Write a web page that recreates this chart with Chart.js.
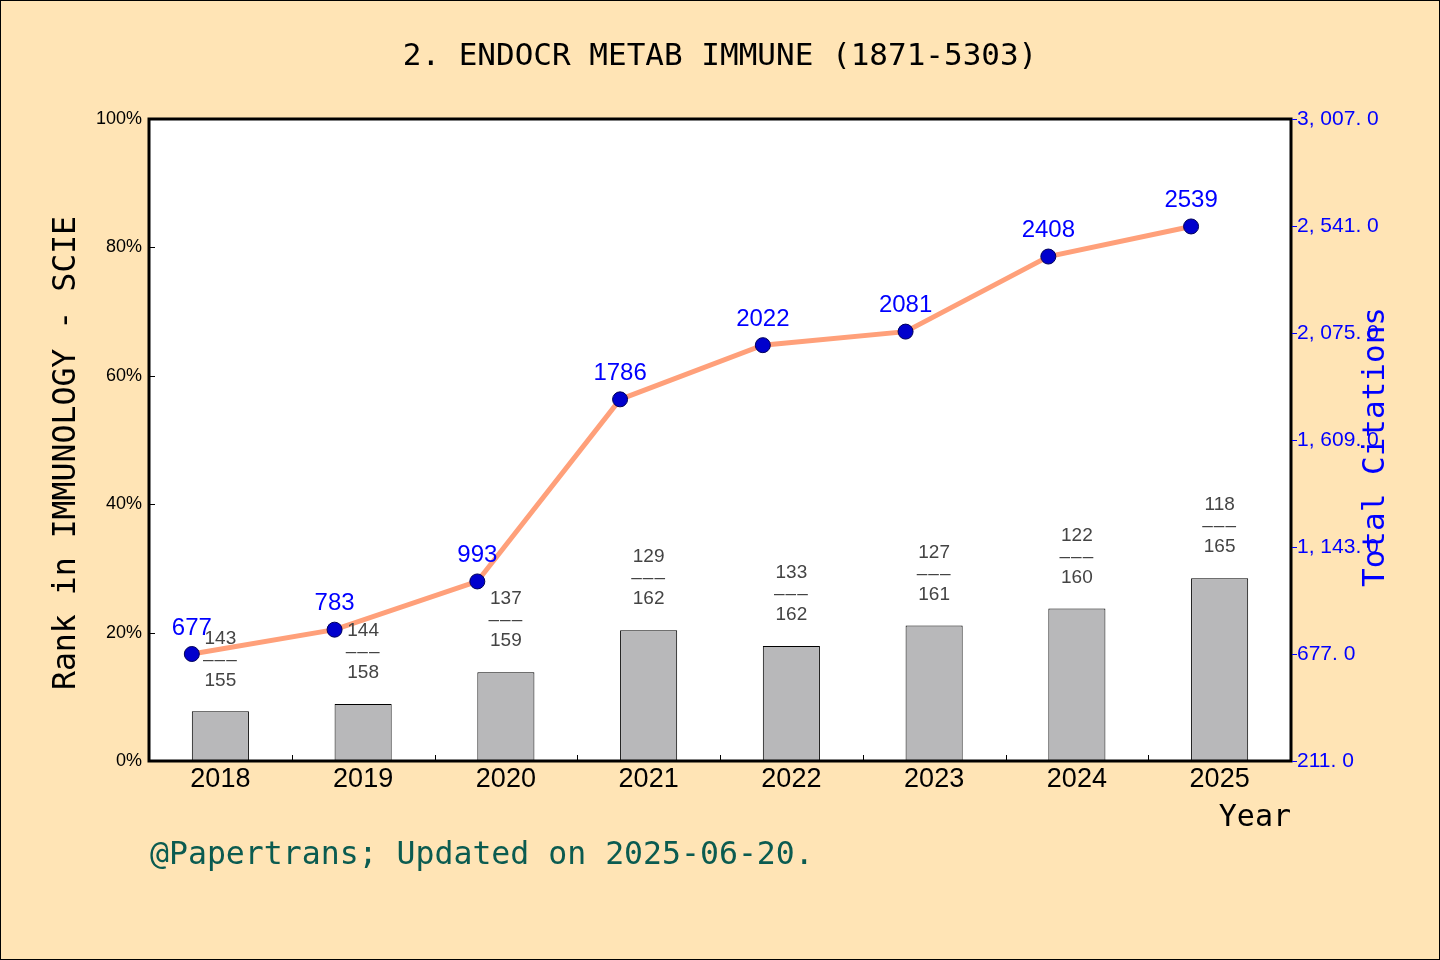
<!DOCTYPE html>
<html>
<head>
<meta charset="utf-8">
<script src="https://cdn.jsdelivr.net/npm/chart.js@4"></script>
<style>
html,body{margin:0;padding:0;background:#FFE4B5;}
canvas{display:block;}
</style>
</head>
<body>
<canvas id="c" width="1440" height="960"></canvas>
<script>
const categories = ['2018','2019','2020','2021','2022','2023','2024','2025'];
const ranks = [143,144,137,129,133,127,122,118];
const totals = [155,158,159,162,162,161,160,165];
const citations = [677,783,993,1786,2022,2081,2408,2539];
const leftTicks = [0,20,40,60,80,100];
const rightTicks = [211,677,1143,1609,2075,2541,3007];

const titleText = '2. ENDOCR METAB IMMUNE (1871-5303)';
const footerText = '@Papertrans; Updated on 2025-06-20.';
const leftTitle = 'Rank in IMMUNOLOGY - SCIE';
const rightTitle = 'Total Citations';
const xTitle = 'Year';

const barValues = ranks.map((r,i)=> (totals[i]-r)/totals[i]*100);
const linePoints = categories.map((c,i)=>({x:i, y:citations[i]}));

function fmtRight(v){
  const s = Math.round(v).toString();
  let out = s;
  if (s.length > 3) out = s.slice(0, s.length-3) + ', ' + s.slice(s.length-3);
  return out + '. 0';
}

const mono = '"DejaVu Sans Mono", "Liberation Mono", monospace';
const sans = '"Liberation Sans", Arial, sans-serif';

const decor = {
  id:'decor',
  beforeDraw(chart){
    const {ctx, chartArea:a} = chart;
    ctx.save();
    ctx.fillStyle = '#FFE4B5';
    ctx.fillRect(0,0,chart.width,chart.height);
    ctx.fillStyle = '#FFFFFF';
    ctx.fillRect(a.left,a.top,a.right-a.left,a.bottom-a.top);
    ctx.strokeStyle = '#000';
    ctx.lineWidth = 1;
    ctx.strokeRect(0.5,0.5,chart.width-1,chart.height-1);
    ctx.restore();
  },
  afterDatasetsDraw(chart){
    const {ctx, chartArea:a, scales} = chart;
    const x = scales.x, y = scales.y, y2 = scales.y2;
    ctx.save();
    const barMeta = chart.getDatasetMeta(1);
    ctx.fillStyle = '#444444';
    ctx.textAlign = 'center';
    ctx.textBaseline = 'middle';
    barMeta.data.forEach((el,i)=>{
      ctx.font = '19px ' + sans;
      ctx.fillText(String(ranks[i]), el.x, el.y-73);
      ctx.fillText(String(totals[i]), el.x, el.y-31);
      ctx.save();
      ctx.letterSpacing = '1px';
      ctx.fillText('\u2013\u2013\u2013', el.x, el.y-52);
      ctx.restore();
    });
    const lineMeta = chart.getDatasetMeta(0);
    ctx.fillStyle = '#0000FF';
    ctx.font = '24px ' + sans;
    lineMeta.data.forEach((el,i)=>{
      ctx.fillText(String(citations[i]), el.x, el.y-26);
    });
    ctx.strokeStyle = '#000';
    ctx.lineWidth = 3;
    ctx.strokeRect(a.left, a.top, a.right-a.left, a.bottom-a.top);
    ctx.lineWidth = 1;
    ctx.beginPath();
    for (let i=1;i<categories.length;i++){
      const px = Math.round((x.getPixelForValue(i-1)+x.getPixelForValue(i))/2)+0.5;
      ctx.moveTo(px, a.bottom-6);
      ctx.lineTo(px, a.bottom);
    }
    leftTicks.forEach(v=>{
      const py = Math.round(y.getPixelForValue(v))+0.5;
      ctx.moveTo(a.left, py);
      ctx.lineTo(a.left+6, py);
    });
    ctx.stroke();
    ctx.strokeStyle = '#0000FF';
    ctx.beginPath();
    rightTicks.forEach(v=>{
      const py = Math.round(y2.getPixelForValue(v))+0.5;
      ctx.moveTo(a.right+1, py);
      ctx.lineTo(a.right+6, py);
    });
    ctx.stroke();
    ctx.restore();
  },
  afterDraw(chart){
    const {ctx, chartArea:a} = chart;
    ctx.save();
    ctx.textBaseline = 'middle';
    ctx.textAlign = 'center';
    ctx.fillStyle = '#000';
    ctx.font = '31px ' + mono;
    ctx.fillText(titleText, 720, 57);
    ctx.textAlign = 'left';
    ctx.fillStyle = '#0B5B50';
    ctx.font = '31.5px ' + mono;
    ctx.fillText(footerText, 150, 856);
    ctx.textAlign = 'right';
    ctx.fillStyle = '#000';
    ctx.font = '30px ' + mono;
    ctx.fillText(xTitle, a.right, 818);
    ctx.save();
    ctx.translate(67, 453);
    ctx.rotate(-Math.PI/2);
    ctx.textAlign = 'center';
    ctx.font = '31.5px ' + mono;
    ctx.fillStyle = '#000';
    ctx.fillText(leftTitle, 0, 0);
    ctx.restore();
    ctx.save();
    ctx.translate(1376, 447);
    ctx.rotate(-Math.PI/2);
    ctx.textAlign = 'center';
    ctx.font = '31px ' + mono;
    ctx.fillStyle = '#0000FF';
    ctx.fillText(rightTitle, 0, 0);
    ctx.restore();
    ctx.restore();
  }
};

new Chart(document.getElementById('c'), {
  data: {
    labels: categories,
    datasets: [
      {
        type:'line',
        label:'Total Citations',
        data: linePoints,
        xAxisID:'x2',
        yAxisID:'y2',
        order:0,
        borderColor:'#FFA07A',
        borderWidth:5,
        pointRadius:7.5,
        pointBackgroundColor:'#0000CD',
        pointBorderColor:'#00005A',
        pointBorderWidth:1,
        tension:0,
        fill:false
      },
      {
        type:'bar',
        label:'Rank',
        data: barValues,
        xAxisID:'x',
        yAxisID:'y',
        order:1,
        grouped:false,
        backgroundColor:'#B8B8BA',
        borderColor:'#000000',
        borderWidth:1,
        categoryPercentage:1,
        barPercentage:0.4
      }
    ]
  },
  options: {
    responsive:false,
    animation:false,
    devicePixelRatio:1,
    layout:{padding:{top:119,left:0,right:0,bottom:0}},
    plugins:{legend:{display:false}, tooltip:{enabled:false}, title:{display:false}},
    scales:{
      x:{
        type:'category',
        position:'bottom',
        offset:true,
        grid:{display:false, drawTicks:false},
        border:{display:false},
        ticks:{color:'#000', font:{family:sans, size:27}, padding:2, maxRotation:0},
        afterFit(s){ s.height = 199; }
      },
      x2:{
        type:'linear',
        display:false,
        offset:false,
        min:-0.3,
        max:7.7
      },
      y:{
        position:'left',
        min:0, max:100,
        grid:{display:false, drawTicks:false},
        border:{display:false},
        ticks:{stepSize:20, color:'#000', font:{family:sans, size:18}, padding:7, callback:v=>v+'%'},
        afterFit(s){ s.width = 149; }
      },
      y2:{
        position:'right',
        min:211, max:3007,
        grid:{display:false, drawTicks:false},
        border:{display:false},
        afterBuildTicks(s){ s.ticks = rightTicks.map(v=>({value:v})); },
        ticks:{color:'#0000FF', font:{family:sans, size:21}, padding:6, callback:v=>fmtRight(v)},
        afterFit(s){ s.width = 149; }
      }
    }
  },
  plugins:[decor]
});
</script>
</body>
</html>
